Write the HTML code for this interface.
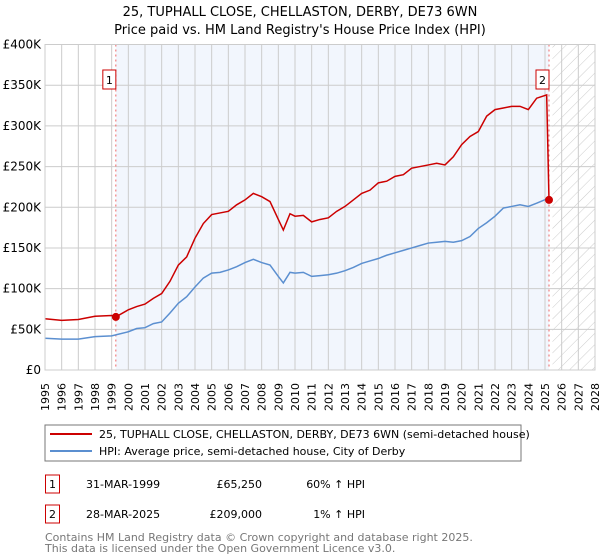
<!DOCTYPE html>
<html><head><meta charset="utf-8"><style>
body{margin:0;background:#fff;}
svg{display:block;font-family:"DejaVu Sans","Liberation Sans",sans-serif;}
</style></head><body>
<svg id="c" width="600" height="560">
<defs><pattern id="hatch" width="8" height="8" patternUnits="userSpaceOnUse" patternTransform="rotate(45)"><line x1="0" y1="0" x2="0" y2="8" stroke="#ccc" stroke-width="1"/></pattern></defs>
<text x="300" y="16" text-anchor="middle" font-size="13">25, TUPHALL CLOSE, CHELLASTON, DERBY, DE73 6WN</text>
<text x="300" y="34" text-anchor="middle" font-size="13">Price paid vs. HM Land Registry's House Price Index (HPI)</text>
<g id="plot"></g>
<rect x="45" y="425" width="476" height="36" fill="#fff" stroke="#777"/>
<line x1="50" y1="434" x2="92" y2="434" stroke="#cc0000" stroke-width="2"/>
<text x="99" y="438" font-size="11">25, TUPHALL CLOSE, CHELLASTON, DERBY, DE73 6WN (semi-detached house)</text>
<line x1="50" y1="451" x2="92" y2="451" stroke="#5b8fd0" stroke-width="2"/>
<text x="99" y="455" font-size="11">HPI: Average price, semi-detached house, City of Derby</text>
<g font-size="11">
<rect x="45.5" y="475" width="14" height="18" fill="#fff" stroke="#cc0000"/>
<text x="52.5" y="488" text-anchor="middle">1</text>
<text x="86" y="488">31-MAR-1999</text>
<text x="262" y="488" text-anchor="end">£65,250</text>
<text x="365" y="488" text-anchor="end">60% ↑ HPI</text>
<rect x="45.5" y="505" width="14" height="18" fill="#fff" stroke="#cc0000"/>
<text x="52.5" y="518" text-anchor="middle">2</text>
<text x="86" y="518">28-MAR-2025</text>
<text x="262" y="518" text-anchor="end">£209,000</text>
<text x="365" y="518" text-anchor="end">1% ↑ HPI</text>
</g>
<text x="45" y="541" font-size="11" fill="#777">Contains HM Land Registry data © Crown copyright and database right 2025.</text>
<text x="45" y="552" font-size="11" fill="#777">This data is licensed under the Open Government Licence v3.0.</text>
</svg>
<script>
const hpiYears=[1995,1996,1997,1998,1999,2000,2000.5,2001,2001.5,2002,2002.5,2003,2003.5,2004,2004.5,2005,2005.5,2006,2006.5,2007,2007.5,2008,2008.5,2009,2009.3,2009.7,2010,2010.5,2011,2011.5,2012,2012.5,2013,2013.5,2014,2014.5,2015,2015.5,2016,2016.5,2017,2017.5,2018,2018.5,2019,2019.5,2020,2020.5,2021,2021.5,2022,2022.5,2023,2023.5,2024,2024.5,2025.2];
const hpiValues=[39,38,38,41,42,47,51,52,57,59,70,82,90,102,113,119,120,123,127,132,136,132,129,115,107,120,119,120,115,116,117,119,122,126,131,134,137,141,144,147,150,153,156,157,158,157,159,164,174,181,189,199,201,203,201,205,211];
const redYears=[1995,1996,1997,1998,1999,1999.25,2000,2000.5,2001,2001.5,2002,2002.5,2003,2003.5,2004,2004.5,2005,2005.5,2006,2006.5,2007,2007.5,2008,2008.5,2009,2009.3,2009.7,2010,2010.5,2011,2011.5,2012,2012.5,2013,2013.5,2014,2014.5,2015,2015.5,2016,2016.5,2017,2017.5,2018,2018.5,2019,2019.5,2020,2020.5,2021,2021.5,2022,2022.5,2023,2023.5,2024,2024.5,2025.1,2025.24];
const redValues=[63,61,62,66,67,65.25,74,78,81,88,94,109,129,139,162,180,191,193,195,203,209,217,213,207,185,172,192,189,190,182,185,187,195,201,209,217,221,230,232,238,240,248,250,252,254,252,262,277,287,293,312,320,322,324,324,320,334,338,209];
const saleYears=[1999.25,2025.24];
const salePrices=[65.25,209];
const yTicks=[0,50,100,150,200,250,300,350,400];
const yTickLabels=["£0","£50K","£100K","£150K","£200K","£250K","£300K","£350K","£400K"];
const xTicks=[];for(let y=1995;y<=2028;y++)xTicks.push(y);
const X0=45,X1=595,Y0=370,Y1=44.5;
const sx=v=>X0+(v-1995)/(2028-1995)*(X1-X0);
const sy=v=>Y0-v/400*(Y0-Y1);
const ns="http://www.w3.org/2000/svg";
const g=document.getElementById('plot');
function mk(t,a,p){const e=document.createElementNS(ns,t);for(const k in a)e.setAttribute(k,a[k]);(p||g).appendChild(e);return e;}
let r=mk('rect',{x:sx(saleYears[0]),y:Y1,width:sx(saleYears[1])-sx(saleYears[0]),height:Y0-Y1,fill:'#f2f6fd'});


r=mk('rect',{x:sx(2025.45),y:Y1,width:X1-sx(2025.45),height:Y0-Y1,fill:'url(#hatch)'});


xTicks.forEach(v=>{const l=mk('line',{x1:sx(v),x2:sx(v),y1:Y1,y2:Y0,stroke:'#ccc','stroke-width':1});


const t=mk('text',{x:0,y:0,'font-size':11,'text-anchor':'end',transform:`translate(${sx(v)+4},${Y0+13}) rotate(-90)`});t.textContent=v;

});
yTicks.forEach((v,i)=>{const l=mk('line',{x1:X0,x2:X1,y1:sy(v),y2:sy(v),stroke:'#ccc','stroke-width':1});


const t=mk('text',{x:X0-4,y:sy(v)+4,'font-size':12,'text-anchor':'end'});t.textContent=yTickLabels[i];

});
saleYears.forEach((v,i)=>{const l=mk('line',{x1:sx(v),x2:sx(v),y1:Y1,y2:Y0,stroke:'#e66','stroke-width':1,'stroke-dasharray':'2,3'});


const bx=sx(v)-(i==0?8:8);const b=mk('rect',{x:bx-5,y:70,width:13,height:19,fill:'#fff',stroke:'#cc0000'});


const t=mk('text',{x:bx+1.5,y:84,'font-size':11,'text-anchor':'middle'});t.textContent=i+1;

});
const hp=mk('polyline',{points:hpiYears.map((y,i)=>sx(y)+','+sy(hpiValues[i])).join(' '),fill:'none',stroke:'#5b8fd0','stroke-width':1.5});


const rp=mk('polyline',{points:redYears.map((y,i)=>sx(y)+','+sy(redValues[i])).join(' '),fill:'none',stroke:'#cc0000','stroke-width':1.5});


saleYears.forEach((v,i)=>{const c=mk('circle',{cx:sx(v),cy:sy(salePrices[i]),r:4,fill:'#cc0000'});

});
const fr=mk('rect',{x:X0,y:Y1,width:X1-X0,height:Y0-Y1,fill:'none',stroke:'#ccc'});


</script>
</body></html>
